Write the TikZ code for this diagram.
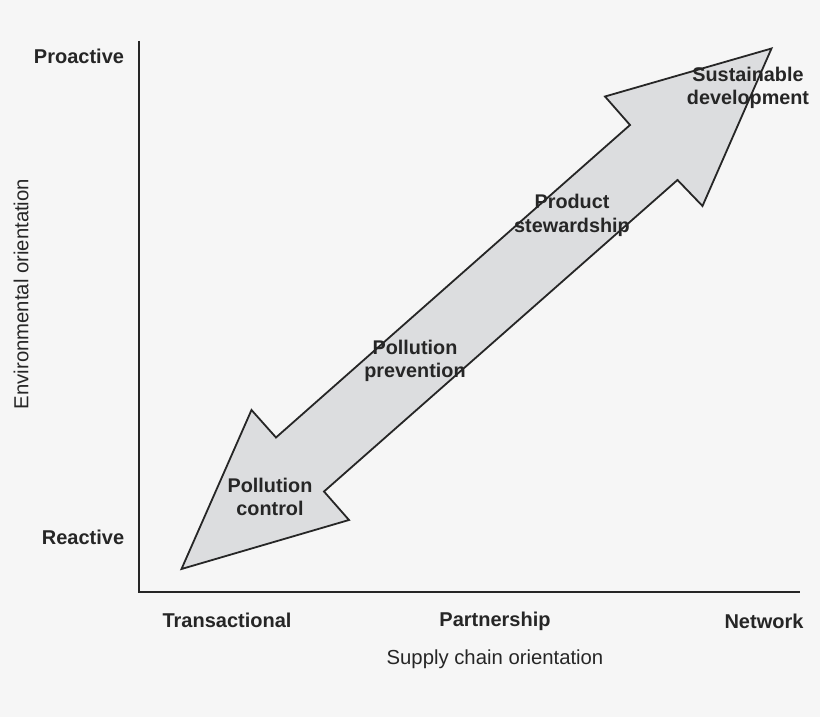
\documentclass[tikz,border=0pt]{standalone}
\usepackage{fontspec}
\setmainfont{Liberation Sans}
\definecolor{bgcol}{HTML}{F6F6F6}
\definecolor{arrowfill}{HTML}{DCDDDF}
\definecolor{inkcol}{HTML}{262626}
\tikzset{
	axislabel/.style={font=\fontsize{20}{23}\selectfont\bfseries, text=inkcol, inner sep=0pt},
	arrowlabel/.style={font=\fontsize{19.8}{23.5}\selectfont\bfseries, text=inkcol, align=center, inner sep=0pt},
	axistitle/.style={font=\fontsize{20.3}{23}\selectfont, text=inkcol, inner sep=0pt}
}

\begin{document}
\begin{tikzpicture}[x=1pt,y=-1pt]
	\fill[bgcol] (0,0) rectangle (820,717);
	\useasboundingbox (0,0) rectangle (820,717);
	\coordinate (ytop) at (139,41);
	\coordinate (orig) at (139,592);
	\coordinate (xend) at (800,592);
	\draw [inkcol, line width=2pt] (ytop) -- (orig) -- (xend);
	\draw [inkcol, fill=arrowfill, line width=1.8pt, line join=miter] (771.5,48.5) -- (702.5,206) -- (677.5,180) -- (324,491.5) -- (349,520) -- (181.5,569) -- (251.5,410) -- (276,437.5) -- (630,125) -- (605,96.5) -- cycle;
	\node [axislabel] (proactive) at (79,56) {Proactive};
	\node [axislabel] (reactive) at (83,537) {Reactive};
	\node [axislabel] (transactional) at (227,620.5) {Transactional};
	\node [axislabel] (partnership) at (495,621) {Partnership};
	\node [axislabel] (network) at (764,621) {Network};
	\node [axistitle] (supply) at (495,659.5) {Supply chain orientation};
	\node [axistitle, rotate=90] (environ) at (21,294) {Environmental orientation};
	\node [arrowlabel] (sustain) at (748,88) {Sustainable\\development};
	\node [arrowlabel] (steward) at (572,215.5) {Product\\stewardship};
	\node [arrowlabel] (prevent) at (415,361) {Pollution\\prevention};
	\node [arrowlabel] (control) at (270,497) {Pollution\\control};
\end{tikzpicture}
\end{document}
